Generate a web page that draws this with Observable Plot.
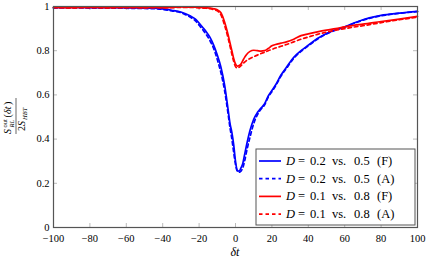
<!DOCTYPE html>
<html>
<head>
<meta charset="utf-8">
<script src="https://cdn.jsdelivr.net/npm/d3@7"></script>
<script src="https://cdn.jsdelivr.net/npm/@observablehq/plot@0.6"></script>
<style>
  html, body { margin: 0; padding: 0; background: #fff; }
</style>
</head>
<body>
<div id="chart"></div>
<script>
// time offsets δt
const t = [-100, -90, -80, -70, -60, -50, -45, -40, -35, -30, -25, -22, -20, -18, -16, -14, -12, -10, -8, -6, -4, -3, -2, -1, 0, 1, 2, 3, 4, 5, 6, 8, 10, 12, 14, 16, 18, 20, 22, 25, 28, 32, 36, 40, 45, 50, 55, 60, 65, 70, 80, 90, 100];

const blueF = [0.995, 0.996, 0.995, 0.995, 0.994, 0.993, 0.992, 0.989, 0.983, 0.975, 0.958, 0.943, 0.925, 0.905, 0.885, 0.86, 0.825, 0.78, 0.725, 0.645, 0.53, 0.47, 0.43, 0.375, 0.3, 0.258, 0.255, 0.27, 0.29, 0.33, 0.37, 0.44, 0.49, 0.52, 0.54, 0.56, 0.595, 0.62, 0.645, 0.69, 0.725, 0.77, 0.80, 0.825, 0.855, 0.878, 0.895, 0.908, 0.925, 0.94, 0.96, 0.97, 0.978];
const blueA = [0.993, 0.994, 0.993, 0.993, 0.992, 0.991, 0.99, 0.987, 0.98, 0.972, 0.952, 0.935, 0.915, 0.895, 0.872, 0.845, 0.81, 0.76, 0.70, 0.62, 0.51, 0.45, 0.40, 0.34, 0.285, 0.255, 0.25, 0.255, 0.27, 0.30, 0.34, 0.41, 0.47, 0.51, 0.535, 0.555, 0.59, 0.615, 0.64, 0.685, 0.72, 0.765, 0.797, 0.822, 0.852, 0.876, 0.893, 0.907, 0.923, 0.938, 0.958, 0.969, 0.977];
const redF = [0.996, 0.995, 0.996, 0.995, 0.996, 0.995, 0.996, 0.995, 0.996, 0.998, 0.997, 0.997, 0.996, 0.995, 0.994, 0.993, 0.99, 0.985, 0.972, 0.93, 0.87, 0.835, 0.80, 0.765, 0.74, 0.73, 0.733, 0.74, 0.755, 0.77, 0.782, 0.797, 0.802, 0.80, 0.798, 0.80, 0.81, 0.822, 0.828, 0.834, 0.84, 0.852, 0.868, 0.876, 0.885, 0.893, 0.90, 0.908, 0.915, 0.92, 0.932, 0.943, 0.955];
const redA = [0.995, 0.994, 0.995, 0.994, 0.995, 0.994, 0.995, 0.994, 0.995, 0.996, 0.996, 0.995, 0.994, 0.993, 0.992, 0.99, 0.986, 0.98, 0.962, 0.915, 0.855, 0.82, 0.785, 0.752, 0.728, 0.722, 0.725, 0.732, 0.74, 0.748, 0.755, 0.765, 0.773, 0.78, 0.787, 0.793, 0.80, 0.806, 0.812, 0.82, 0.828, 0.84, 0.852, 0.862, 0.874, 0.884, 0.893, 0.90, 0.907, 0.913, 0.927, 0.94, 0.952];

const seriesD = ["0.2", "0.2", "0.1", "0.1"];
const seriesVs = ["0.5", "0.5", "0.8", "0.8"];
const seriesKind = ["(F)", "(A)", "(F)", "(A)"];
const seriesValues = [blueF, blueA, redF, redA];
const seriesColors = ["#0000ff", "#0000ff", "#ff0000", "#ff0000"];
const seriesDash = [null, "3.5,3", null, "3.5,3"];

const xTicks = [-100, -80, -60, -40, -20, 0, 20, 40, 60, 80, 100];
const yTicks = [0, 0.2, 0.4, 0.6, 0.8, 1];

const fmtX = d => d < 0 ? "\u2212" + Math.abs(d) : String(d);
const fmtY = d => String(d);

const FONT = "'Liberation Serif', 'Times New Roman', serif";
const W = 431, H = 262;
const mL = 53, mR = 14, mT = 6, mB = 35;

const lineMarks = seriesValues.map((vals, i) =>
  Plot.line(t.map((x, j) => ({x, y: vals[j]})), {
    x: "x", y: "y",
    stroke: seriesColors[i],
    strokeWidth: 1.7,
    strokeDasharray: seriesDash[i],
    curve: "monotone-x"
  })
);

const tickLenX = 4 / (W - mL - mR) * 200;
const tickLenY = 4 / (H - mT - mB);

const plot = Plot.plot({
  width: W, height: H,
  marginLeft: mL, marginRight: mR, marginTop: mT, marginBottom: mB,
  style: {background: "#fff", color: "#000", fontFamily: FONT},
  x: {domain: [-100, 100]},
  y: {domain: [0, 1]},
  marks: [
    Plot.ruleX(xTicks, {y1: 0, y2: tickLenY, stroke: "#aaa", strokeWidth: 0.8}),
    Plot.ruleX(xTicks, {y1: 1 - tickLenY, y2: 1, stroke: "#aaa", strokeWidth: 0.8}),
    Plot.ruleY(yTicks, {x1: -100, x2: -100 + tickLenX, stroke: "#aaa", strokeWidth: 0.8}),
    Plot.ruleY(yTicks, {x1: 100 - tickLenX, x2: 100, stroke: "#aaa", strokeWidth: 0.8}),
    Plot.axisX({ticks: xTicks, tickSize: 0, tickPadding: 7, tickFormat: fmtX, label: null, fontSize: 10.5}),
    Plot.axisY({ticks: yTicks, tickSize: 0, tickPadding: 4, tickFormat: fmtY, label: null, fontSize: 10.5}),
    ...lineMarks,
    Plot.frame({stroke: "#555", strokeWidth: 1.2})
  ]
});

const svg = d3.select(plot);

function txt(parent, x, y, s, opts = {}) {
  const e = parent.append("text")
    .attr("x", x).attr("y", y)
    .attr("text-anchor", opts.anchor || "start")
    .style("font-family", FONT)
    .attr("font-size", opts.size || 10)
    .attr("fill", "#000")
    .text(s);
  if (opts.italic) e.attr("font-style", "italic");
  return e;
}

// x label
txt(svg, 235, 256, "δt", {anchor: "middle", italic: true, size: 12});

// y label (fraction, rotated)
const yl = svg.append("g").attr("transform", "translate(16,116) rotate(-90)");
txt(yl, -18, -5, "S", {italic: true, size: 10});
txt(yl, -11.5, -9, "out", {size: 6.5});
txt(yl, -11.5, -2, "RL", {italic: true, size: 6.5});
txt(yl, -1.5, -5, "(", {size: 10});
txt(yl, 2, -5, "δt", {italic: true, size: 10});
txt(yl, 11, -5, ")", {size: 10});
yl.append("line").attr("x1", -18).attr("x2", 18).attr("y1", 0).attr("y2", 0)
  .attr("stroke", "#000").attr("stroke-width", 0.6);
txt(yl, -15, 9, "2", {size: 10});
txt(yl, -10, 9, "S", {italic: true, size: 10});
txt(yl, -4, 11, "HBT", {italic: true, size: 6.5});

// legend
const lg = svg.append("g");
lg.append("rect").attr("x", 256).attr("y", 149).attr("width", 159).attr("height", 76)
  .attr("fill", "#fff").attr("stroke", "#555").attr("stroke-width", 1);
seriesValues.forEach((_, i) => {
  const cy = 161 + i * 17.7;
  lg.append("line").attr("x1", 259).attr("x2", 281).attr("y1", cy).attr("y2", cy)
    .attr("stroke", seriesColors[i]).attr("stroke-width", 1.7)
    .attr("stroke-dasharray", seriesDash[i]);
  const by = cy + 4;
  txt(lg, 286, by, "D", {italic: true, size: 12.5});
  txt(lg, 298, by, "=", {size: 12.5});
  txt(lg, 310, by, seriesD[i], {size: 12.5});
  txt(lg, 332, by, "vs.", {size: 12.5});
  txt(lg, 354, by, seriesVs[i], {size: 12.5});
  txt(lg, 377, by, seriesKind[i], {size: 12.5});
});

document.getElementById("chart").appendChild(plot);
</script>
</body>
</html>
